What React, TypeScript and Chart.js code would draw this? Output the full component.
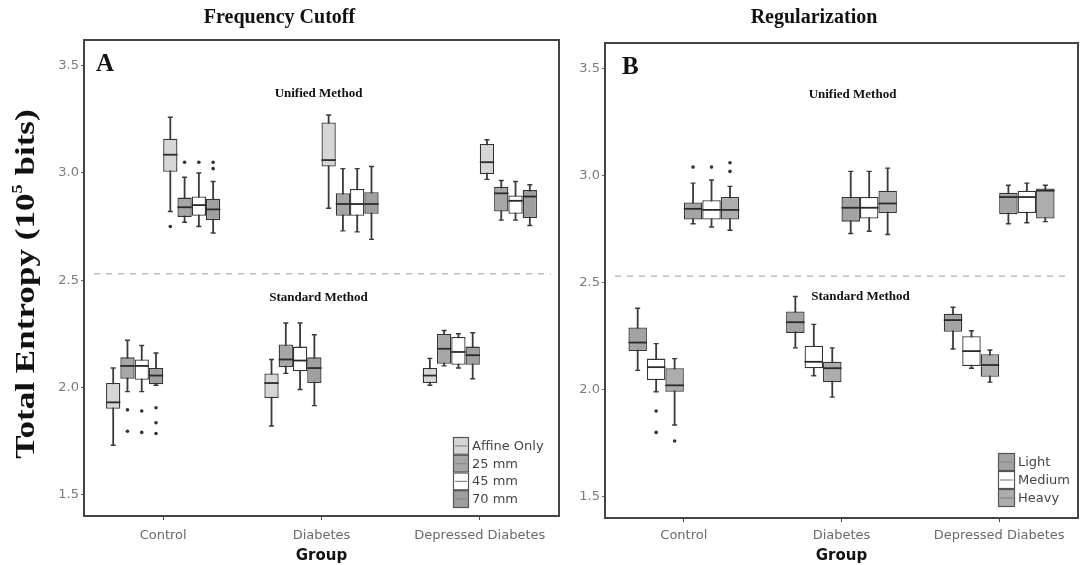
import React, { useEffect, useRef } from "react";
import { Chart, registerables } from "chart.js";
Chart.register(...registerables);

const groups = ["Control", "Diabetes", "Depressed Diabetes"];
const yTickValues = [1.5, 2.0, 2.5, 3.0, 3.5];
const separatorValue = 2.53;

const cutoffNames = ["Affine Only", "25 mm", "45 mm", "70 mm"];
const cutoffColors = ["#d6d6d6", "#a6a6a6", "#ffffff", "#9f9f9f"];
const regNames = ["Light", "Medium", "Heavy"];
const regColors = ["#a3a3a3", "#ffffff", "#adadad"];

// [lower whisker, Q1, median, Q3, upper whisker] per group
const cutoffStdAffine = [[1.73, 1.9, 1.93, 2.02, 2.09], [1.82, 1.95, 2.02, 2.065, 2.13], [2.01, 2.02, 2.055, 2.09, 2.135]];
const cutoffStd25 = [[1.98, 2.04, 2.1, 2.14, 2.22], [2.065, 2.095, 2.13, 2.2, 2.3], [2.1, 2.11, 2.18, 2.25, 2.265]];
const cutoffStd45 = [[1.98, 2.035, 2.1, 2.13, 2.195], [1.99, 2.075, 2.125, 2.19, 2.3], [2.09, 2.105, 2.165, 2.235, 2.25]];
const cutoffStd70 = [[2.01, 2.015, 2.055, 2.09, 2.16], [1.915, 2.02, 2.09, 2.14, 2.245], [2.04, 2.105, 2.15, 2.19, 2.255]];
const cutoffUniAffine = [[2.82, 3.005, 3.085, 3.16, 3.26], [2.835, 3.03, 3.06, 3.235, 3.27], [2.97, 2.995, 3.05, 3.135, 3.155]];
const cutoffUni25 = [[2.77, 2.795, 2.84, 2.885, 2.98], [2.73, 2.8, 2.855, 2.905, 3.02], [2.78, 2.82, 2.905, 2.935, 2.965]];
const cutoffUni45 = [[2.75, 2.8, 2.85, 2.89, 3.0], [2.725, 2.8, 2.855, 2.925, 3.02], [2.78, 2.81, 2.87, 2.895, 2.96]];
const cutoffUni70 = [[2.72, 2.78, 2.83, 2.88, 2.96], [2.69, 2.81, 2.855, 2.91, 3.03], [2.755, 2.79, 2.89, 2.92, 2.945]];

const cutoffStdAffineOut = [[], [], []];
const cutoffStd25Out = [[1.895, 1.795], [], []];
const cutoffStd45Out = [[1.89, 1.79], [], []];
const cutoffStd70Out = [[1.905, 1.835, 1.785], [], []];
const cutoffUniAffineOut = [[2.75], [], []];
const cutoffUni25Out = [[3.05], [], []];
const cutoffUni45Out = [[3.05], [], []];
const cutoffUni70Out = [[3.05, 3.02], [], []];

const regStdLight = [[2.09, 2.18, 2.22, 2.29, 2.38], [2.195, 2.265, 2.315, 2.365, 2.435], [2.19, 2.27, 2.325, 2.355, 2.385]];
const regStdMedium = [[1.99, 2.045, 2.105, 2.145, 2.215], [2.065, 2.1, 2.13, 2.205, 2.305], [2.1, 2.11, 2.18, 2.25, 2.275]];
const regStdHeavy = [[1.835, 1.99, 2.02, 2.1, 2.145], [1.965, 2.035, 2.1, 2.13, 2.195], [2.035, 2.06, 2.115, 2.165, 2.185]];
const regUniLight = [[2.775, 2.795, 2.845, 2.875, 2.965], [2.73, 2.785, 2.85, 2.9, 3.02], [2.775, 2.82, 2.9, 2.92, 2.955]];
const regUniMedium = [[2.76, 2.795, 2.84, 2.885, 2.98], [2.74, 2.8, 2.85, 2.9, 3.02], [2.78, 2.825, 2.9, 2.93, 2.965]];
const regUniHeavy = [[2.745, 2.795, 2.84, 2.9, 2.95], [2.725, 2.825, 2.87, 2.93, 3.035], [2.785, 2.8, 2.93, 2.94, 2.955]];

const regStdLightOut = [[], [], []];
const regStdMediumOut = [[1.9, 1.8], [], []];
const regStdHeavyOut = [[1.76], [], []];
const regUniLightOut = [[3.04], [], []];
const regUniMediumOut = [[3.04], [], []];
const regUniHeavyOut = [[3.06, 3.02], [], []];

const SERIF = "'Liberation Serif', 'DejaVu Serif', serif";
const SANS = "'DejaVu Sans', sans-serif";

function makeDataset(label: string, stats: number[][], outliers: number[][], color: string) {
  return {
    label,
    data: stats.map((s) => [s[1], s[3]]),
    stats,
    outliers,
    backgroundColor: color,
    borderColor: "#333333",
    borderWidth: 1.3,
    borderSkipped: false,
  } as any;
}

function makeOverlay(cfg: any) {
  return {
    id: "overlay" + cfg.letter,
    beforeDatasetsDraw(chart: any) {
      const { ctx, chartArea: ca, scales } = chart;
      const y = scales.y;
      ctx.save();
      const yy = y.getPixelForValue(separatorValue);
      ctx.strokeStyle = "#bdbdbd";
      ctx.lineWidth = 1.5;
      ctx.setLineDash([6, 6]);
      ctx.beginPath();
      ctx.moveTo(ca.left + 10, yy);
      ctx.lineTo(ca.right - 8, yy);
      ctx.stroke();
      ctx.setLineDash([]);
      chart.data.datasets.forEach((ds: any, i: number) => {
        const meta = chart.getDatasetMeta(i);
        meta.data.forEach((bar: any, j: number) => {
          const s = ds.stats[j];
          const x = bar.x;
          const y0 = y.getPixelForValue(s[0]);
          const y4 = y.getPixelForValue(s[4]);
          ctx.strokeStyle = "#3a3a3a";
          ctx.lineWidth = 1.8;
          ctx.beginPath();
          ctx.moveTo(x, y0);
          ctx.lineTo(x, y4);
          ctx.stroke();
          ctx.lineWidth = 1.4;
          ctx.beginPath();
          ctx.moveTo(x - 2.5, y0);
          ctx.lineTo(x + 2.5, y0);
          ctx.moveTo(x - 2.5, y4);
          ctx.lineTo(x + 2.5, y4);
          ctx.stroke();
        });
      });
      ctx.restore();
    },
    afterDatasetsDraw(chart: any) {
      const { ctx, scales } = chart;
      const y = scales.y;
      ctx.save();
      chart.data.datasets.forEach((ds: any, i: number) => {
        const meta = chart.getDatasetMeta(i);
        meta.data.forEach((bar: any, j: number) => {
          const s = ds.stats[j];
          const w = bar.width;
          const ym = y.getPixelForValue(s[2]);
          ctx.strokeStyle = "#2a2a2a";
          ctx.lineWidth = 1.8;
          ctx.beginPath();
          ctx.moveTo(bar.x - w / 2, ym);
          ctx.lineTo(bar.x + w / 2, ym);
          ctx.stroke();
          ctx.fillStyle = "#333333";
          (ds.outliers[j] || []).forEach((v: number) => {
            ctx.beginPath();
            ctx.arc(bar.x, y.getPixelForValue(v), 1.8, 0, Math.PI * 2);
            ctx.fill();
          });
        });
      });
      ctx.restore();
    },
    afterDraw(chart: any) {
      const { ctx, chartArea: ca, scales } = chart;
      const x = scales.x;
      const y = scales.y;
      ctx.save();
      // frame
      ctx.strokeStyle = "#444444";
      ctx.lineWidth = 2;
      ctx.strokeRect(ca.left, ca.top, ca.right - ca.left, ca.bottom - ca.top);
      // panel letter
      ctx.fillStyle = "#111111";
      ctx.font = `bold 25px ${SERIF}`;
      ctx.textAlign = "left";
      ctx.textBaseline = "middle";
      ctx.fillText(cfg.letter, ca.left + cfg.letterDx, ca.top + 25);
      // method annotations
      ctx.font = `bold 13px ${SERIF}`;
      ctx.textAlign = "center";
      const cx = x.getPixelForValue(1);
      ctx.fillText("Unified Method", cx + cfg.uniDx, y.getPixelForValue(cfg.uniY));
      ctx.fillText("Standard Method", cx + cfg.stdDx, y.getPixelForValue(cfg.stdY));
      // legend
      const lx = ca.right - cfg.legendRight;
      const ly = ca.bottom - cfg.legendBottom;
      const kh = cfg.keyH;
      const kw = cfg.keyW;
      cfg.names.forEach((name: string, k: number) => {
        const top = ly + k * kh;
        ctx.fillStyle = cfg.colors[k];
        ctx.fillRect(lx, top, kw, kh);
        ctx.strokeStyle = "#555555";
        ctx.lineWidth = 1.2;
        ctx.strokeRect(lx + 0.5, top + 0.5, kw - 1, kh - 1);
        ctx.beginPath();
        ctx.moveTo(lx + 2, top + kh / 2);
        ctx.lineTo(lx + kw - 2, top + kh / 2);
        ctx.strokeStyle = "#888888";
        ctx.stroke();
        ctx.fillStyle = "#444444";
        ctx.font = `13px ${SANS}`;
        ctx.textAlign = "left";
        ctx.textBaseline = "middle";
        ctx.fillText(name, lx + kw + 3, top + kh / 2 + 0.5);
      });
      // y title
      if (cfg.yTitle) {
        ctx.translate(27, 284);
        ctx.rotate(-Math.PI / 2);
        ctx.scale(1.3, 1.05);
        ctx.fillStyle = "#111111";
        ctx.textBaseline = "middle";
        ctx.textAlign = "left";
        const big = `bold 27px ${SERIF}`;
        const small = `bold 14px ${SERIF}`;
        const p1 = "Total Entropy (10";
        const p2 = "5";
        const p3 = " bits)";
        ctx.font = big;
        const w1 = ctx.measureText(p1).width;
        const w3 = ctx.measureText(p3).width;
        ctx.font = small;
        const w2 = ctx.measureText(p2).width;
        let sx = -(w1 + w2 + w3) / 2;
        ctx.font = big;
        ctx.fillText(p1, sx, 0);
        sx += w1;
        ctx.font = small;
        ctx.fillText(p2, sx, -8);
        sx += w2;
        ctx.font = big;
        ctx.fillText(p3, sx, 0);
      }
      ctx.restore();
    },
  };
}

function makeOptions(title: string, catPct: number, yWidth: number, xHeight: number, tickPad: number, titlePadBottom: number) {
  return {
    animation: false,
    responsive: false,
    maintainAspectRatio: false,
    layout: { padding: { left: 0, right: 3, top: 0, bottom: 0 } },
    datasets: { bar: { categoryPercentage: catPct, barPercentage: 1 } },
    plugins: {
      legend: { display: false },
      tooltip: { enabled: false },
      title: {
        display: true,
        text: title,
        color: "#111111",
        font: { family: SERIF, size: 20, weight: "bold" },
        padding: { top: 6, bottom: titlePadBottom },
      },
    },
    scales: {
      x: {
        type: "category",
        offset: true,
        grid: { display: true, offset: false, drawOnChartArea: false, drawTicks: true, tickLength: 4, color: "#444444" },
        border: { display: false },
        ticks: { font: { family: SANS, size: 13 }, color: "#6a6a6a", padding: tickPad, maxRotation: 0, autoSkip: false },
        title: {
          display: true,
          text: "Group",
          color: "#111111",
          font: { family: SANS, size: 15, weight: "bold" },
          padding: { top: 6, bottom: 0 },
        },
        afterFit: (s: any) => {
          s.height = xHeight;
        },
      },
      y: {
        min: 1.4,
        max: 3.62,
        afterBuildTicks: (s: any) => {
          s.ticks = yTickValues.map((v) => ({ value: v }));
        },
        grid: { display: true, drawOnChartArea: false, drawTicks: true, tickLength: 3, color: "#666666" },
        border: { display: false },
        ticks: {
          font: { family: SANS, size: 13 },
          color: "#7a7a7a",
          padding: 2,
          callback: (v: any) => Number(v).toFixed(1),
        },
        afterFit: (s: any) => {
          s.width = yWidth;
        },
      },
    },
  } as any;
}

export default function App() {
  const refA = useRef<HTMLCanvasElement>(null);
  const refB = useRef<HTMLCanvasElement>(null);

  useEffect(() => {
    const dsA = [
      makeDataset("Standard Affine Only", cutoffStdAffine, cutoffStdAffineOut, cutoffColors[0]),
      makeDataset("Standard 25 mm", cutoffStd25, cutoffStd25Out, cutoffColors[1]),
      makeDataset("Standard 45 mm", cutoffStd45, cutoffStd45Out, cutoffColors[2]),
      makeDataset("Standard 70 mm", cutoffStd70, cutoffStd70Out, cutoffColors[3]),
      makeDataset("Unified Affine Only", cutoffUniAffine, cutoffUniAffineOut, cutoffColors[0]),
      makeDataset("Unified 25 mm", cutoffUni25, cutoffUni25Out, cutoffColors[1]),
      makeDataset("Unified 45 mm", cutoffUni45, cutoffUni45Out, cutoffColors[2]),
      makeDataset("Unified 70 mm", cutoffUni70, cutoffUni70Out, cutoffColors[3]),
    ];
    const dsB = [
      makeDataset("Standard Light", regStdLight, regStdLightOut, regColors[0]),
      makeDataset("Standard Medium", regStdMedium, regStdMediumOut, regColors[1]),
      makeDataset("Standard Heavy", regStdHeavy, regStdHeavyOut, regColors[2]),
      makeDataset("Unified Light", regUniLight, regUniLightOut, regColors[0]),
      makeDataset("Unified Medium", regUniMedium, regUniMediumOut, regColors[1]),
      makeDataset("Unified Heavy", regUniHeavy, regUniHeavyOut, regColors[2]),
    ];
    const chartA = new Chart(refA.current as HTMLCanvasElement, {
      type: "bar",
      data: { labels: groups, datasets: dsA },
      options: makeOptions("Frequency Cutoff", 114 / 158, 84, 49, 8, 10),
      plugins: [
        makeOverlay({
          letter: "A",
          letterDx: 12,
          uniDx: -3,
          stdDx: -3,
          uniY: 3.37,
          stdY: 2.42,
          names: cutoffNames,
          colors: cutoffColors,
          legendRight: 106,
          legendBottom: 79,
          keyH: 17.75,
          keyW: 16,
          yTitle: true,
        }),
      ],
    } as any);
    const chartB = new Chart(refB.current as HTMLCanvasElement, {
      type: "bar",
      data: { labels: groups, datasets: dsB },
      options: makeOptions("Regularization", 111 / 158, 55, 47, 6, 13),
      plugins: [
        makeOverlay({
          letter: "B",
          letterDx: 17,
          uniDx: 11,
          stdDx: 19,
          uniY: 3.377,
          stdY: 2.433,
          names: regNames,
          colors: regColors,
          legendRight: 80,
          legendBottom: 65,
          keyH: 18,
          keyW: 17,
          yTitle: false,
        }),
      ],
    } as any);
    return () => {
      chartA.destroy();
      chartB.destroy();
    };
  }, []);

  return (
    <div style={{ position: "fixed", left: 0, top: 0, width: 1081, height: 565, background: "#ffffff" }}>
      <canvas ref={refA} width={562} height={565} style={{ position: "absolute", left: 0, top: 0, width: 562, height: 565 }} />
      <canvas ref={refB} width={531} height={565} style={{ position: "absolute", left: 550, top: 0, width: 531, height: 565 }} />
    </div>
  );
}
